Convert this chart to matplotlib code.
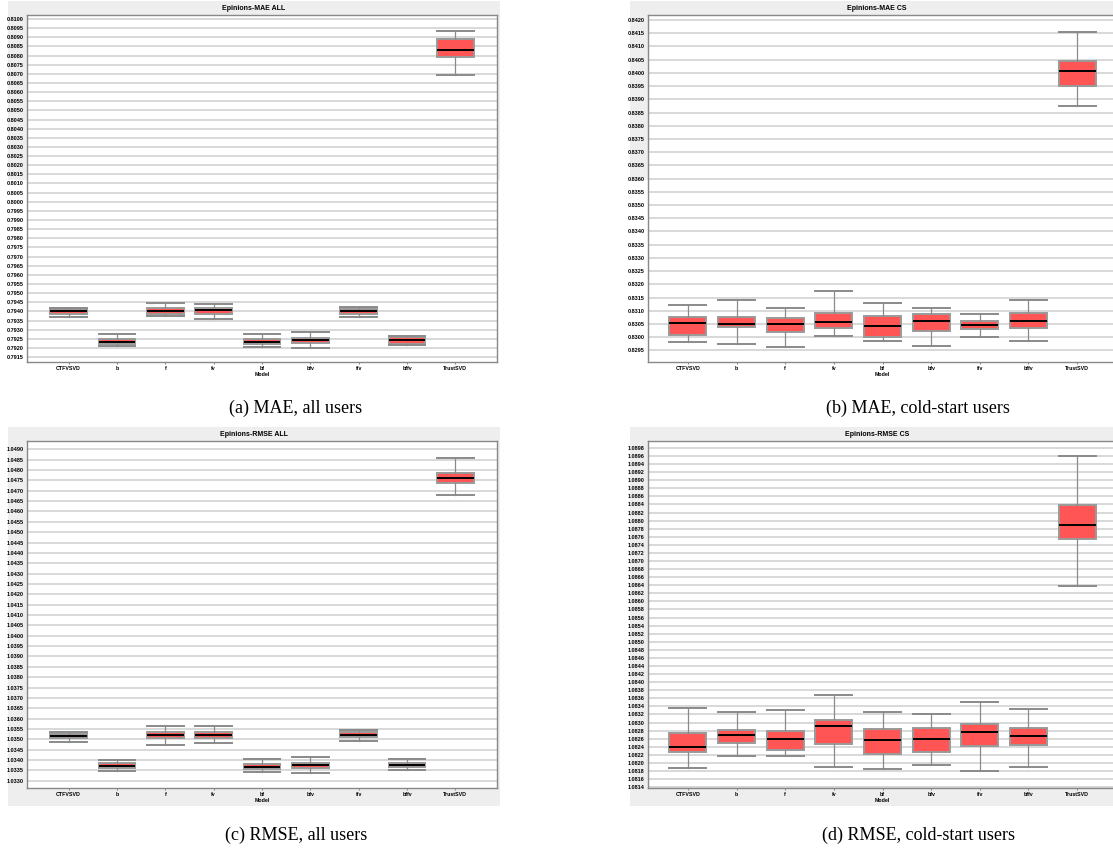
import matplotlib
matplotlib.use('Agg')
import matplotlib.pyplot as plt
from matplotlib.patches import Rectangle
import numpy as np

# Modelos (eje x)
models = ['CTFVSVD', 'b', 'f', 'fv', 'bf', 'bfv', 'ffv', 'bffv', 'TrustSVD']

# Epinions-MAE ALL: bigote inferior, q1, mediana, q3, bigote superior
mae_all_lo = [0.79369, 0.79211, 0.79373, 0.79356, 0.79207, 0.79200, 0.79369, 0.79215, 0.80691]
mae_all_q1 = [0.79387, 0.79224, 0.79385, 0.79385, 0.79222, 0.79228, 0.79387, 0.79224, 0.80793]
mae_all_med = [0.79400, 0.79235, 0.79404, 0.79405, 0.79233, 0.79246, 0.79402, 0.79244, 0.80830]
mae_all_q3 = [0.79415, 0.79250, 0.79418, 0.79418, 0.79248, 0.79257, 0.79415, 0.79259, 0.80891]
mae_all_hi = [0.79420, 0.79274, 0.79447, 0.79440, 0.79277, 0.79286, 0.79425, 0.79268, 0.80933]

# Epinions-MAE CS
mae_cs_lo = [0.82980, 0.82976, 0.82962, 0.83004, 0.82986, 0.82965, 0.83002, 0.82984, 0.83876]
mae_cs_q1 = [0.83008, 0.83037, 0.83019, 0.83035, 0.83002, 0.83024, 0.83031, 0.83033, 0.83951]
mae_cs_med = [0.83054, 0.83050, 0.83050, 0.83059, 0.83042, 0.83061, 0.83047, 0.83061, 0.84006]
mae_cs_q3 = [0.83077, 0.83077, 0.83072, 0.83092, 0.83080, 0.83089, 0.83061, 0.83092, 0.84044]
mae_cs_hi = [0.83121, 0.83139, 0.83112, 0.83173, 0.83130, 0.83110, 0.83087, 0.83139, 0.84156]

# Epinions-RMSE ALL
rmse_all_lo = [1.03486, 1.03346, 1.03471, 1.03484, 1.03343, 1.03339, 1.03490, 1.03352, 1.04679]
rmse_all_q1 = [1.03506, 1.03363, 1.03508, 1.03508, 1.03355, 1.03360, 1.03511, 1.03367, 1.04739]
rmse_all_med = [1.03514, 1.03373, 1.03522, 1.03522, 1.03367, 1.03375, 1.03522, 1.03376, 1.04761]
rmse_all_q3 = [1.03526, 1.03387, 1.03537, 1.03537, 1.03381, 1.03387, 1.03536, 1.03385, 1.04786]
rmse_all_hi = [1.03534, 1.03400, 1.03563, 1.03563, 1.03403, 1.03416, 1.03547, 1.03403, 1.04860]

# Epinions-RMSE CS
rmse_cs_lo = [1.08187, 1.08217, 1.08216, 1.08189, 1.08184, 1.08195, 1.08180, 1.08190, 1.08638]
rmse_cs_q1 = [1.08227, 1.08249, 1.08233, 1.08248, 1.08222, 1.08227, 1.08241, 1.08245, 1.08755]
rmse_cs_med = [1.08239, 1.08268, 1.08260, 1.08291, 1.08256, 1.08259, 1.08276, 1.08266, 1.08789]
rmse_cs_q3 = [1.08273, 1.08282, 1.08279, 1.08306, 1.08284, 1.08286, 1.08296, 1.08287, 1.08839]
rmse_cs_hi = [1.08337, 1.08326, 1.08330, 1.08369, 1.08326, 1.08322, 1.08352, 1.08334, 1.08959]

W, H = 1113, 851
fig = plt.figure(figsize=(W / 100, H / 100), dpi=100)

font = 'Liberation Sans'


def px_axes(x0, y0, x1, y1):
    # rectangulo en pixeles (origen arriba a la izquierda) -> fraccion de figura
    return [x0 / W, 1 - y1 / H, (x1 - x0) / W, (y1 - y0) / H]


def panel(rect, bg, title, title_x, title_y, lo, q1, med, q3, hi,
          ylim, yticks, xlim, caption, cap_x, cap_y):
    # fondo gris
    bx0, by0, bx1, by1 = bg
    fig.add_artist(Rectangle((bx0 / W, 1 - by1 / H), (bx1 - bx0) / W, (by1 - by0) / H,
                             transform=fig.transFigure, facecolor='#eeeeee',
                             edgecolor='none', zorder=0))
    ax = fig.add_axes(px_axes(*rect))
    ax.set_facecolor('white')
    stats = []
    for i in range(len(models)):
        stats.append({'whislo': lo[i], 'q1': q1[i], 'med': med[i],
                      'q3': q3[i], 'whishi': hi[i], 'label': models[i]})
    ax.bxp(stats, positions=range(len(models)), widths=0.76, capwidths=0.76,
           showfliers=False, patch_artist=True,
           boxprops=dict(facecolor='#ff5555', edgecolor='#9a9a9a', linewidth=1.4),
           medianprops=dict(color='black', linewidth=1.4),
           whiskerprops=dict(color='#8a8a8a', linewidth=0.9),
           capprops=dict(color='#8a8a8a', linewidth=1.4))
    ax.set_xlim(*xlim)
    ax.set_ylim(*ylim)
    ax.set_yticks(yticks)
    ax.set_yticklabels(['%.4f' % t for t in yticks])
    ax.set_xticks(range(len(models)))
    ax.set_xticklabels(models)
    ax.yaxis.grid(True, color='#d6d6d6', linewidth=1.3)
    ax.set_axisbelow(True)
    for s in ax.spines.values():
        s.set_color('#888888')
        s.set_linewidth(1.0)
    ax.tick_params(axis='y', length=0, pad=2.5, labelsize=4.0)
    ax.tick_params(axis='x', length=1.5, pad=1.5, labelsize=3.8, color='#888888')
    for lab in ax.get_xticklabels() + ax.get_yticklabels():
        lab.set_fontweight('bold')
        lab.set_family(font)
    ax.set_xlabel('Model', fontsize=3.8, fontweight='bold', family=font, labelpad=0.5)
    fig.text(title_x / W, 1 - title_y / H, title, ha='center', va='center',
             fontsize=5, fontweight='bold', family=font)
    fig.text(cap_x / W, 1 - cap_y / H, caption, ha='center', va='center',
             fontsize=13, family='Liberation Serif')
    return ax


panel((27, 15, 497, 362), (8, 1, 500, 180), 'Epinions-MAE ALL', 254, 8,
      mae_all_lo, mae_all_q1, mae_all_med, mae_all_q3, mae_all_hi,
      (0.79123, 0.81022), np.arange(0.7915, 0.81005, 0.0005), (-0.86, 8.86),
      '(a) MAE, all users', 296, 408)

panel((648, 15, 1117, 362), (630, 1, 1122, 180), 'Epinions-MAE CS', 877, 8,
      mae_cs_lo, mae_cs_q1, mae_cs_med, mae_cs_q3, mae_cs_hi,
      (0.82906, 0.84219), np.arange(0.8295, 0.84205, 0.0005), (-0.82, 8.82),
      '(b) MAE, cold-start users', 918, 408)

panel((27, 441, 497, 788), (8, 427, 500, 806), 'Epinions-RMSE ALL', 254, 434,
      rmse_all_lo, rmse_all_q1, rmse_all_med, rmse_all_q3, rmse_all_hi,
      (1.03265, 1.0494), np.arange(1.0330, 1.04905, 0.0005), (-0.86, 8.86),
      '(c) RMSE, all users', 296, 835)

panel((648, 441, 1117, 788), (630, 427, 1122, 806), 'Epinions-RMSE CS', 877, 434,
      rmse_cs_lo, rmse_cs_q1, rmse_cs_med, rmse_cs_q3, rmse_cs_hi,
      (1.08138, 1.08997), np.arange(1.0814, 1.08985, 0.0002), (-0.82, 8.82),
      '(d) RMSE, cold-start users', 918, 835)

plt.savefig('out.png', dpi=100)
